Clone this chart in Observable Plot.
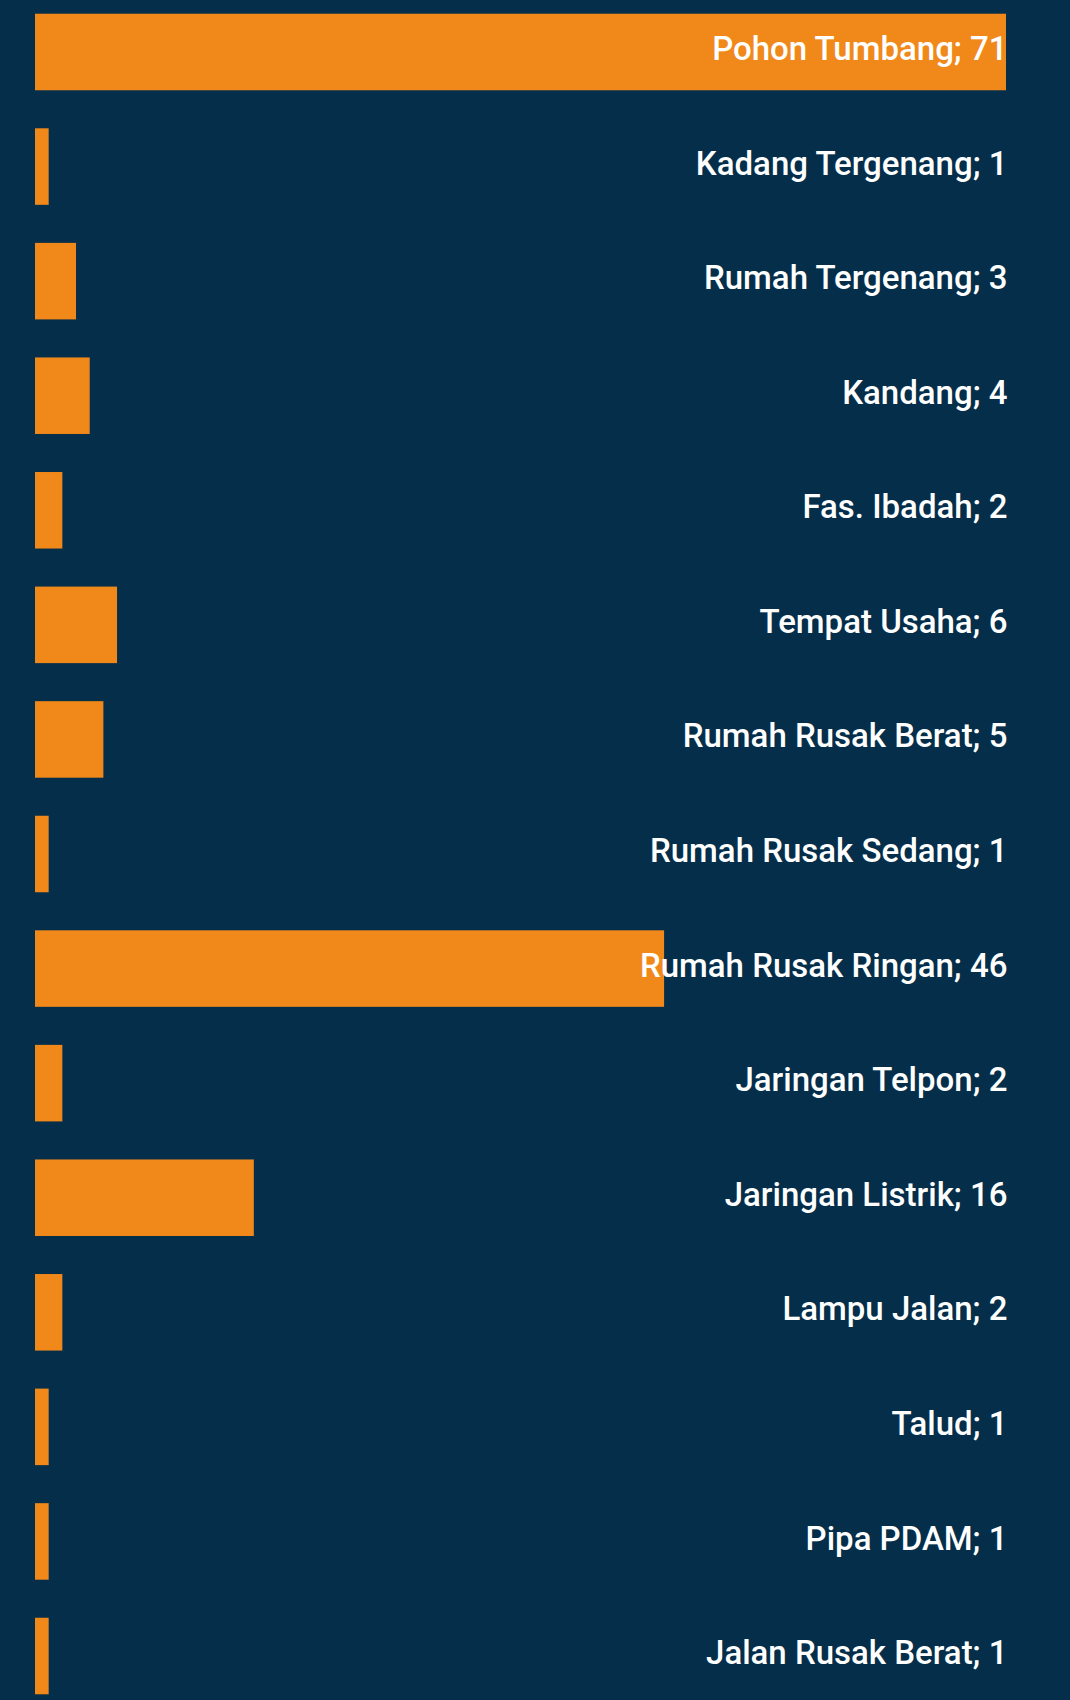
<!DOCTYPE html>
<html>
<head>
<meta charset="utf-8">
<script src="https://cdn.jsdelivr.net/npm/d3@7"></script>
<script src="https://cdn.jsdelivr.net/npm/@observablehq/plot@0.6"></script>
<style>
  html, body { margin: 0; padding: 0; background: #042e4a; }
  #chart svg { display: block; }
</style>
</head>
<body>
<div id="chart"></div>
<script>
const categories = [
  "Pohon Tumbang", "Kadang Tergenang", "Rumah Tergenang", "Kandang", "Fas. Ibadah",
  "Tempat Usaha", "Rumah Rusak Berat", "Rumah Rusak Sedang", "Rumah Rusak Ringan",
  "Jaringan Telpon", "Jaringan Listrik", "Lampu Jalan", "Talud", "Pipa PDAM", "Jalan Rusak Berat"
];
const values = [71, 1, 3, 4, 2, 6, 5, 1, 46, 2, 16, 2, 1, 1, 1];

const data = categories.map((c, i) => ({category: c, value: values[i], label: `${c}; ${values[i]}`}));

const chart = Plot.plot({
  width: 1070,
  height: 1700,
  marginLeft: 35,
  marginRight: 64,
  marginTop: 0,
  marginBottom: 0,
  style: {background: "#042e4a", fontFamily: "Roboto, sans-serif"},
  x: {domain: [0, 71], axis: null},
  y: {domain: categories, axis: null, round: false, paddingInner: 0.332, paddingOuter: 0.166, range: [-5.3, 1713.3]},
  marks: [
    Plot.barX(data, {x: "value", y: "category", fill: "#f1881a"}),
    Plot.text(data, {
      y: "category", text: "label", frameAnchor: "right", textAnchor: "end",
      fill: "#ffffff", fontSize: 33, fontWeight: 500, dy: -3, dx: 1
    })
  ]
});
document.getElementById("chart").appendChild(chart);
</script>
</body>
</html>
